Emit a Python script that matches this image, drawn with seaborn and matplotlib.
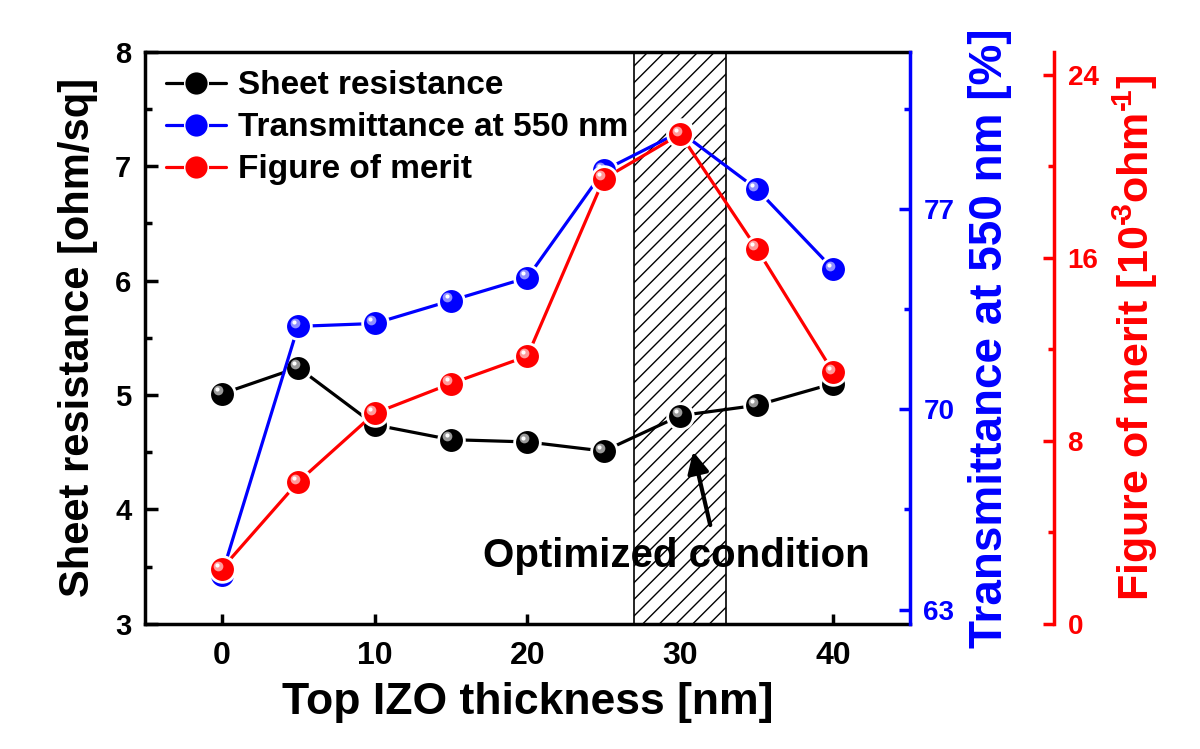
import numpy as np
import pandas as pd
import matplotlib
matplotlib.use("Agg")
import matplotlib.pyplot as plt
import matplotlib.transforms as mtransforms
from matplotlib.lines import Line2D
from matplotlib.ticker import MultipleLocator
import seaborn as sns

# Data
thickness = [0, 5, 10, 15, 20, 25, 30, 35, 40]
sheet_resistance = [5.01, 5.24, 4.74, 4.61, 4.59, 4.51, 4.82, 4.91, 5.10]
transmittance = [64.2, 72.9, 73.0, 73.8, 74.6, 78.35, 79.7, 77.7, 74.9]
figure_of_merit = [2.4, 6.2, 9.2, 10.5, 11.7, 19.45, 21.4, 16.4, 11.0]

labels = ["Sheet resistance", "Transmittance at 550 nm", "Figure of merit"]
colors = ["black", "#0000ff", "#ff0000"]
highlights = ["#9a9a9a", "#8f8fff", "#ff9a9a"]

NARROW = ["Liberation Sans Narrow", "Liberation Sans", "DejaVu Sans"]


def sphere_series(ax, fig, y, color, light):
    """Линия с маркерами в виде 'шариков' как в Origin."""
    sns.lineplot(x=thickness, y=y, ax=ax, color=color, lw=2.3,
                 marker="o", markersize=18.5, markeredgecolor="white",
                 markeredgewidth=2.0, zorder=3)
    # блик на шарике
    off1 = mtransforms.ScaledTranslation(-2.5 / 72, 2.5 / 72, fig.dpi_scale_trans)
    off2 = mtransforms.ScaledTranslation(-3.2 / 72, 3.2 / 72, fig.dpi_scale_trans)
    ax.plot(thickness, y, ls="none", marker="o", markersize=7, color=light,
            mew=0, transform=ax.transData + off1, zorder=4)
    ax.plot(thickness, y, ls="none", marker="o", markersize=3, color="white",
            mew=0, transform=ax.transData + off2, zorder=5)


def main():
    sns.set_style("ticks")
    plt.rcParams["font.family"] = ["Liberation Sans", "DejaVu Sans"]
    plt.rcParams["font.weight"] = "bold"
    for key in ["text.color", "axes.labelcolor", "xtick.color", "ytick.color"]:
        plt.rcParams[key] = "black"
    plt.rcParams["mathtext.fontset"] = "custom"
    plt.rcParams["mathtext.rm"] = "Liberation Sans:bold"
    plt.rcParams["mathtext.bf"] = "Liberation Sans:bold"
    plt.rcParams["mathtext.default"] = "bf"

    fig = plt.figure(figsize=(12, 7.49), dpi=100)
    ax = fig.add_axes([0.121, 0.167, 0.637, 0.764])
    ax2 = ax.twinx()
    ax3 = ax.twinx()
    ax3.spines["right"].set_position(("outward", 103.7))

    # заштрихованная область оптимума
    ax.axvspan(27, 33, facecolor="white", edgecolor="black", hatch="//",
               lw=1.2, zorder=1)

    sphere_series(ax, fig, sheet_resistance, colors[0], highlights[0])
    sphere_series(ax2, fig, transmittance, colors[1], highlights[1])
    sphere_series(ax3, fig, figure_of_merit, colors[2], highlights[2])

    # оси
    ax.set_xlim(-5, 45)
    ax.set_ylim(3, 8)
    ax2.set_ylim(62.5, 82.5)
    ax3.set_ylim(0, 25)

    ax.xaxis.set_major_locator(MultipleLocator(10))
    ax.yaxis.set_major_locator(MultipleLocator(1))
    ax.yaxis.set_minor_locator(MultipleLocator(0.5))
    ax2.set_yticks([63, 70, 77])
    ax2.set_yticks([66.5, 73.5, 80.5], minor=True)
    ax3.set_yticks([0, 8, 16, 24])
    ax3.set_yticks([4, 12, 20], minor=True)

    for sp in ["top", "left", "bottom"]:
        ax.spines[sp].set_linewidth(2.5)
        ax.spines[sp].set_color("black")
    ax.spines["right"].set_visible(False)
    for a, c in [(ax2, colors[1]), (ax3, colors[2])]:
        for sp in ["top", "left", "bottom"]:
            a.spines[sp].set_visible(False)
        a.spines["right"].set_color(c)
        a.spines["right"].set_linewidth(2.5)

    ax.tick_params(axis="x", which="major", direction="in", length=7,
                   width=2.5, labelsize=23, pad=12)
    ax.tick_params(axis="y", which="major", direction="in", length=9,
                   width=2.5, labelsize=21, pad=10)
    ax.tick_params(axis="y", which="minor", direction="in", length=5, width=2.5)
    ax.tick_params(top=False, right=False)
    for a, c in [(ax2, colors[1]), (ax3, colors[2])]:
        a.tick_params(axis="y", which="major", direction="in", length=8,
                      width=2.5, colors=c, labelsize=20, pad=10)
        a.tick_params(axis="y", which="minor", direction="in", length=4.5,
                      width=2.5, colors=c)
    for t in ax.get_xticklabels():
        t.set_fontweight("bold")
        t.set_family(NARROW)
    for a in (ax, ax2, ax3):
        for t in a.get_yticklabels():
            t.set_fontweight("bold")

    ax.set_xlabel("Top IZO thickness [nm]", fontsize=32, fontweight="bold",
                  labelpad=8)
    ax.set_ylabel("Sheet resistance [ohm/sq]", fontsize=30, fontweight="bold",
                  labelpad=12)
    ax2.set_ylabel("Transmittance at 550 nm [%]", fontsize=33,
                   fontweight="bold", color=colors[1], labelpad=10)
    ax3.set_ylabel("Figure of merit [10$^{\u2010\\!3}$ohm$^{\u2010\\!1}$]",
                   fontsize=31, fontweight="bold", color=colors[2], labelpad=9)

    # подпись и стрелка
    ax.annotate("", xy=(30.8, 4.53), xytext=(32.0, 3.84),
                arrowprops=dict(arrowstyle="-|>", color="black", lw=3,
                                mutation_scale=32), zorder=6)
    ax.text(29.75, 3.59, "Optimized condition", fontsize=29,
            fontweight="bold", ha="center", va="center", zorder=6)

    # легенда
    handles = [Line2D([], [], color=c, lw=2.3, marker="o", markersize=17,
                      markeredgecolor="white", markeredgewidth=1)
               for c in colors]
    ax3.legend(handles, labels, loc="upper left",
               bbox_to_anchor=(-0.012, 1.02), frameon=False,
               prop={"weight": "bold", "size": 24}, handlelength=1.8,
               handletextpad=0.35, labelspacing=0.33)

    fig.savefig("out.png", dpi=100)


if __name__ == "__main__":
    main()
